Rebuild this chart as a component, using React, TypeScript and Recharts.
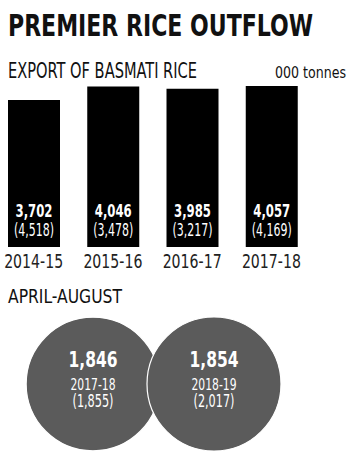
import React from 'react';
import { BarChart, Bar, XAxis, YAxis, LabelList, ScatterChart, Scatter, ZAxis } from 'recharts';

const years = ['2014-15', '2015-16', '2016-17', '2017-18'];
const exportValues = [3702, 4046, 3985, 4057];
const bracketValues = [4518, 3478, 3217, 4169];

const periodLabels = ['2017-18', '2018-19'];
const periodValues = [1846, 1854];
const periodBrackets = [1855, 2017];

const FONT = "'DejaVu Sans Condensed', 'DejaVu Sans', sans-serif";
const GREY = '#5b5b5b';

const fmt = (v: number) => v.toLocaleString('en-US');

const barData = years.map((y, i) => ({ year: y, value: exportValues[i], prev: bracketValues[i] }));
const circleData = periodLabels.map((p, i) => ({ x: i, y: 0, z: periodValues[i], label: p, prev: periodBrackets[i] }));

const BarLabel = (props: any) => {
  const { x, y, width, height, index } = props;
  const cx = x + width / 2;
  const bottom = y + height;
  const d = barData[index];
  return (
    <g>
      <text x={cx} y={bottom - 30} textAnchor="middle" fill="#fff" fontFamily={FONT} fontWeight="bold" fontSize={17} textLength={37} lengthAdjust="spacingAndGlyphs">
        {fmt(d.value)}
      </text>
      <text x={cx} y={bottom - 11} textAnchor="middle" fill="#fff" fontFamily={FONT} fontSize={17} textLength={40} lengthAdjust="spacingAndGlyphs">
        ({fmt(d.prev)})
      </text>
    </g>
  );
};

const YearTick = (props: any) => {
  const { x, y, payload } = props;
  return (
    <text x={x} y={y + 21} textAnchor="middle" fill="#222" fontFamily={FONT} fontSize={19} textLength={59} lengthAdjust="spacingAndGlyphs">
      {payload.value}
    </text>
  );
};

const CircleShape = (props: any) => {
  const { cx, cy, width, payload } = props;
  const r = width / 2;
  return (
    <g>
      <circle cx={cx} cy={cy} r={r} fill={GREY} stroke="#fff" strokeWidth={1.2} />
      <text x={cx} y={cy - 17} textAnchor="middle" fill="#fff" fontFamily={FONT} fontWeight="bold" fontSize={21} textLength={49} lengthAdjust="spacingAndGlyphs">
        {fmt(payload.z)}
      </text>
      <text x={cx} y={cy + 6} textAnchor="middle" fill="#fff" fontFamily={FONT} fontSize={16} textLength={45} lengthAdjust="spacingAndGlyphs">
        {payload.label}
      </text>
      <text x={cx} y={cy + 23} textAnchor="middle" fill="#fff" fontFamily={FONT} fontSize={17} textLength={41} lengthAdjust="spacingAndGlyphs">
        ({fmt(payload.prev)})
      </text>
    </g>
  );
};

export default function App() {
  return (
    <div style={{ position: 'absolute', left: 0, top: 0, width: 354, height: 460, background: '#fff', overflow: 'hidden' }}>
      <svg width={354} height={460} style={{ position: 'absolute', left: 0, top: 0 }}>
        <text x={8} y={36} fontFamily={FONT} fontWeight="bold" fontSize={31} fill="#111" textLength={305} lengthAdjust="spacingAndGlyphs">
          PREMIER RICE OUTFLOW
        </text>
        <text x={8} y={78} fontFamily={FONT} fontSize={21} fill="#111" textLength={189} lengthAdjust="spacingAndGlyphs">
          EXPORT OF BASMATI RICE
        </text>
        <text x={275} y={78} fontFamily={FONT} fontSize={15} fill="#111" textLength={71} lengthAdjust="spacingAndGlyphs">
          000 tonnes
        </text>
        <text x={8} y={303} fontFamily={FONT} fontSize={20} fill="#111" textLength={114} lengthAdjust="spacingAndGlyphs">
          APRIL-AUGUST
        </text>
      </svg>
      <div style={{ position: 'absolute', left: -6, top: 0 }}>
        <BarChart width={317} height={277} data={barData} margin={{ top: 86, right: 0, bottom: 0, left: 0 }}>
          <XAxis dataKey="year" axisLine={false} tickLine={false} tickSize={0} tickMargin={0} height={30} interval={0} tick={<YearTick />} />
          <YAxis hide domain={[0, 'dataMax']} />
          <Bar dataKey="value" fill="#000" barSize={52} isAnimationActive={false}>
            <LabelList dataKey="value" content={<BarLabel />} />
          </Bar>
        </BarChart>
      </div>
      <div style={{ position: 'absolute', left: 0, top: 304 }}>
        <ScatterChart width={354} height={160} margin={{ top: 0, right: 140, bottom: 0, left: 93 }}>
          <XAxis type="number" dataKey="x" domain={[0, 1]} hide />
          <YAxis type="number" dataKey="y" domain={[-1, 1]} hide />
          <ZAxis type="number" dataKey="z" domain={[0, 1854]} range={[0, 14100]} />
          <Scatter data={circleData} shape={<CircleShape />} isAnimationActive={false} />
        </ScatterChart>
      </div>
    </div>
  );
}
